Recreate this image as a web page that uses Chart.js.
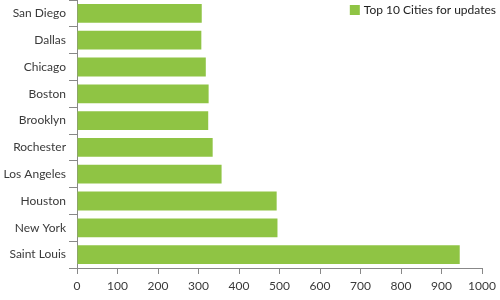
<!DOCTYPE html>
<html>
<head>
<meta charset="utf-8">
<script src="https://cdn.jsdelivr.net/npm/chart.js@4"></script>
<style>
  html, body { margin: 0; padding: 0; background: #fff; }
  #wrap { width: 500px; height: 300px; }
</style>
</head>
<body>
<div id="wrap"><canvas id="myChart"></canvas></div>
<script>
const cities = ['San Diego', 'Dallas', 'Chicago', 'Boston', 'Brooklyn', 'Rochester', 'Los Angeles', 'Houston', 'New York', 'Saint Louis'];
const updates = [308, 307, 318, 325, 324, 335, 357, 493, 495, 945];
const xTicks = [0, 100, 200, 300, 400, 500, 600, 700, 800, 900, 1000];

const FONT = "Lato, sans-serif";
Chart.defaults.font.family = FONT;
Chart.defaults.font.size = 12;
Chart.defaults.color = '#3a3a3a';

// legend drawn inside the plot, top right corner
const cornerLegend = {
  id: 'cornerLegend',
  afterDraw(chart) {
    const c = chart.ctx;
    const ds = chart.data.datasets[0];
    c.save();
    c.font = '12px ' + FONT;
    c.textBaseline = 'middle';
    const w = c.measureText(ds.label).width;
    const right = 496;
    const tx = right - w;
    c.fillStyle = ds.backgroundColor;
    c.fillRect(tx - 14, 5, 10, 10);
    c.fillStyle = '#222';
    c.fillText(ds.label, tx, 10.5);
    c.restore();
  }
};

const ctx = document.getElementById('myChart');

new Chart(ctx, {
  type: 'bar',
  data: {
    labels: cities,
    datasets: [{
      label: 'Top 10 Cities for updates',
      data: updates,
      backgroundColor: '#8fc444',
      borderWidth: 0,
      barPercentage: 0.7,
      categoryPercentage: 1
    }]
  },
  options: {
    indexAxis: 'y',
    responsive: true,
    maintainAspectRatio: false,
    animation: false,
    layout: { padding: { top: 0, right: 18, bottom: 0, left: 0 } },
    plugins: {
      tooltip: { enabled: false },
      legend: { display: false }
    },
    scales: {
      x: {
        min: 0,
        max: 1000,
        afterBuildTicks: (scale) => { scale.ticks = xTicks.map(v => ({ value: v })); },
        grid: { drawOnChartArea: false, drawTicks: true, tickLength: 6, color: '#888' },
        border: { color: '#888' },
        ticks: { padding: 5, maxRotation: 0, callback: (v) => String(v) },
        afterFit: (scale) => { scale.height = 32; scale.paddingLeft = 0; scale.paddingRight = 0; }
      },
      y: {
        grid: { drawOnChartArea: false, drawTicks: true, tickLength: 8, color: '#888' },
        border: { color: '#888' },
        ticks: { padding: 3 },
        afterFit: (scale) => { scale.width = 77; scale.paddingTop = 0; scale.paddingBottom = 0; }
      }
    }
  },
  plugins: [cornerLegend]
});
</script>
</body>
</html>
